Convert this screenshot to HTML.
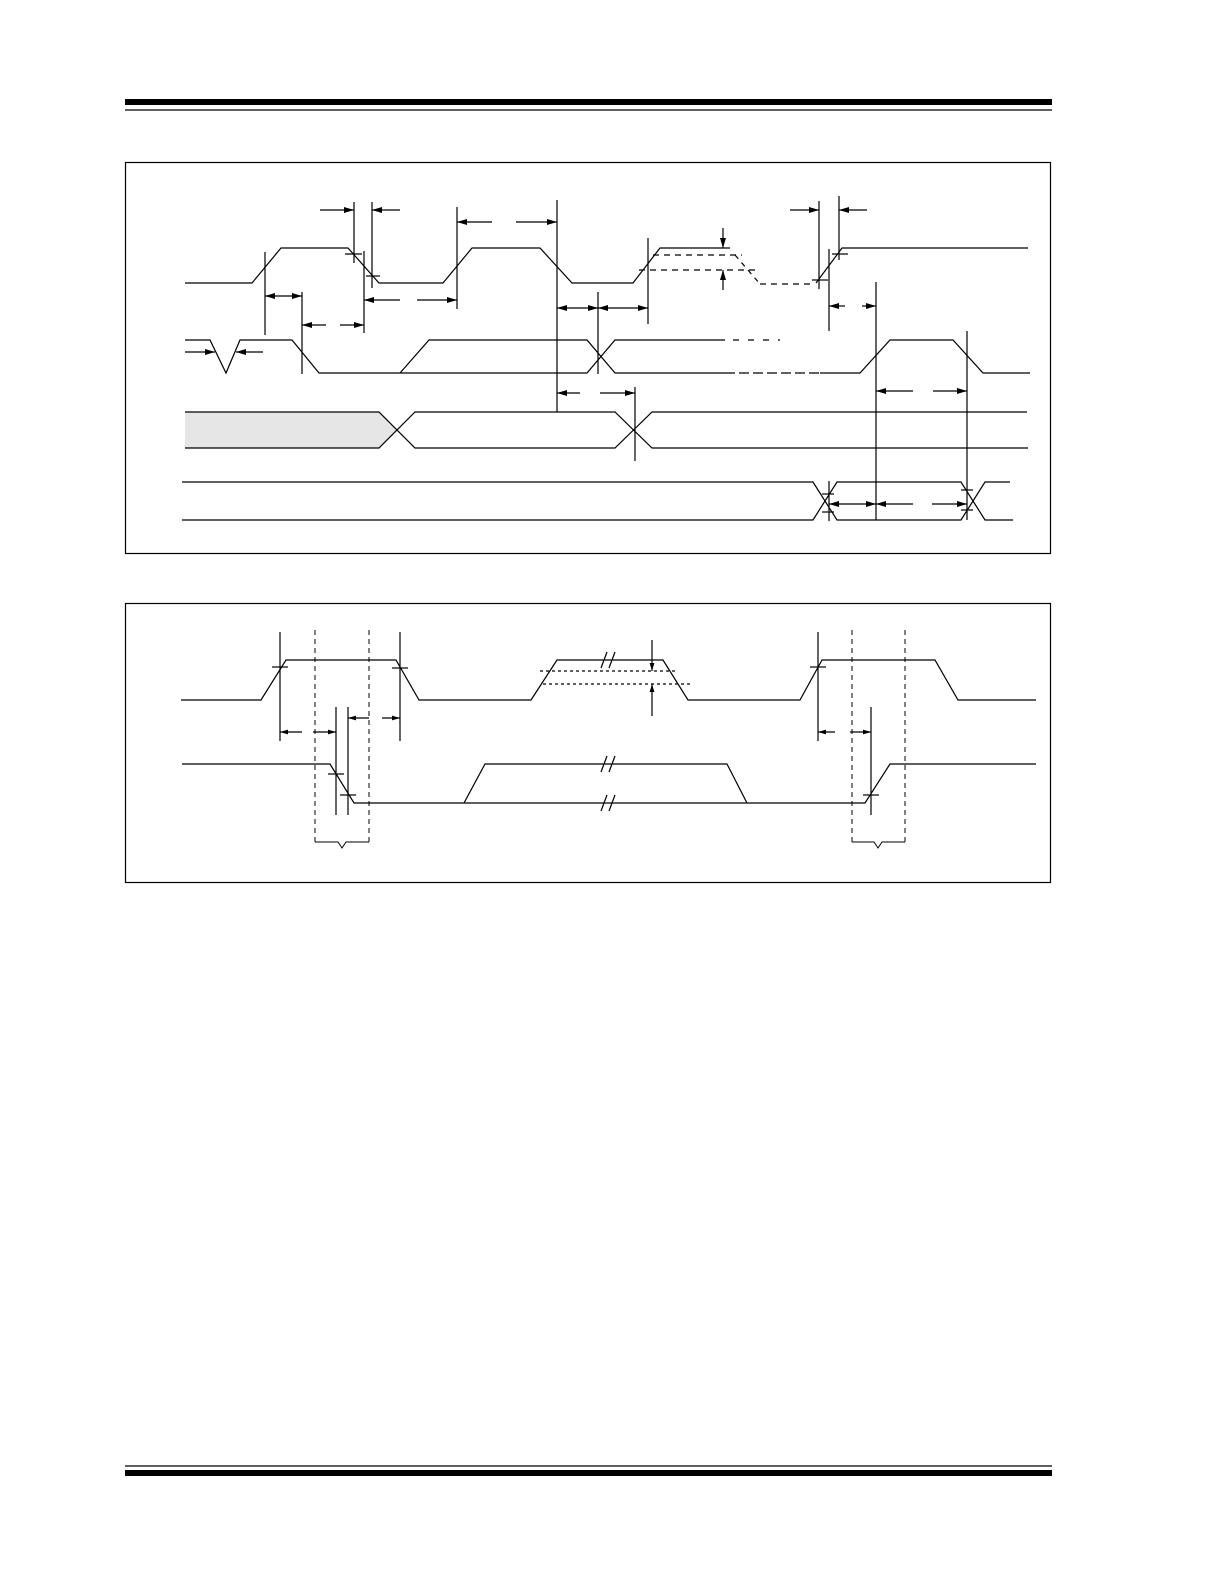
<!DOCTYPE html>
<html><head><meta charset="utf-8"><style>
html,body{margin:0;padding:0;background:#fff;overflow:hidden;width:1224px;height:1584px}
svg{display:block}
</style></head><body>
<svg width="1224" height="1584" viewBox="0 0 1224 1584" xmlns="http://www.w3.org/2000/svg">
<defs>
<marker id="a" viewBox="0 0 10 6" refX="10" refY="3" markerWidth="11" markerHeight="6" markerUnits="userSpaceOnUse" orient="auto-start-reverse"><path d="M0,0L10,3L0,6z" fill="#000"/></marker>
<marker id="s" viewBox="0 0 10 6" refX="10" refY="3" markerWidth="8" markerHeight="5" markerUnits="userSpaceOnUse" orient="auto-start-reverse"><path d="M0,0L10,3L0,6z" fill="#000"/></marker>
</defs>
<g fill="none" stroke="#000" stroke-width="1.2">
<rect x="125" y="99" width="927" height="6" fill="#000" stroke="none"/>
<line x1="125" y1="110" x2="1052" y2="110"/>
<line x1="125" y1="1466" x2="1052" y2="1466"/>
<rect x="125" y="1470" width="927" height="6" fill="#000" stroke="none"/>
<rect x="125.5" y="162.5" width="925" height="391"/>
<rect x="125.5" y="603.5" width="925" height="279"/>

<polyline points="185,283 252,283 281,248 348,248 379,283 443,283 472,248 540,248 572,283 633,283 660,248 730,248"/>
<polyline points="816,283 842,248 1028,248"/>
<line x1="653" y1="255" x2="742" y2="255" stroke-dasharray="6,5"/>
<line x1="639" y1="270" x2="757" y2="270" stroke-dasharray="6,5"/>
<line x1="735" y1="255" x2="760" y2="284" stroke-dasharray="5,5"/>
<line x1="760" y1="284" x2="815" y2="284" stroke-dasharray="6,5"/>
<line x1="723" y1="228" x2="723" y2="248" marker-end="url(#a)"/>
<line x1="723" y1="290" x2="723" y2="270" marker-end="url(#a)"/>
<line x1="265" y1="252" x2="265" y2="335"/>
<line x1="302" y1="292" x2="302" y2="374"/>
<line x1="354" y1="202" x2="354" y2="263"/>
<line x1="372" y1="202" x2="372" y2="288"/>
<line x1="364" y1="251" x2="364" y2="333"/>
<line x1="457" y1="207" x2="457" y2="309"/>
<line x1="557" y1="200" x2="557" y2="412"/>
<line x1="598" y1="292" x2="598" y2="374"/>
<line x1="648" y1="238" x2="648" y2="324"/>
<line x1="635" y1="387" x2="635" y2="461"/>
<line x1="819" y1="201" x2="819" y2="289"/>
<line x1="839" y1="196" x2="839" y2="260"/>
<line x1="829" y1="249" x2="829" y2="331"/>
<line x1="876" y1="282" x2="876" y2="520"/>
<line x1="967" y1="331" x2="967" y2="520"/>
<line x1="829" y1="481" x2="829" y2="521"/>
<line x1="345" y1="254" x2="362" y2="254"/>
<line x1="366" y1="276" x2="380" y2="276"/>
<line x1="812" y1="280" x2="828" y2="280"/>
<line x1="832" y1="254" x2="848" y2="254"/>
<line x1="320" y1="210" x2="354" y2="210" marker-end="url(#a)"/>
<line x1="400" y1="210" x2="372" y2="210" marker-end="url(#a)"/>
<line x1="492" y1="222" x2="457" y2="222" marker-end="url(#a)"/>
<line x1="516" y1="222" x2="557" y2="222" marker-end="url(#a)"/>
<line x1="265" y1="296" x2="302" y2="296" marker-start="url(#a)" marker-end="url(#a)"/>
<line x1="400" y1="300" x2="364" y2="300" marker-end="url(#a)"/>
<line x1="417" y1="300" x2="457" y2="300" marker-end="url(#a)"/>
<line x1="326" y1="325" x2="302" y2="325" marker-end="url(#a)"/>
<line x1="340" y1="325" x2="364" y2="325" marker-end="url(#a)"/>
<line x1="557" y1="308" x2="598" y2="308" marker-start="url(#a)" marker-end="url(#a)"/>
<line x1="630" y1="308" x2="598" y2="308" marker-end="url(#a)"/>
<line x1="630" y1="308" x2="648" y2="308" marker-end="url(#a)"/>
<line x1="185" y1="352" x2="215" y2="352" marker-end="url(#a)"/>
<line x1="263" y1="352" x2="236" y2="352" marker-end="url(#a)"/>
<line x1="580" y1="393" x2="557" y2="393" marker-end="url(#a)"/>
<line x1="600" y1="393" x2="635" y2="393" marker-end="url(#a)"/>
<line x1="790" y1="210" x2="819" y2="210" marker-end="url(#a)"/>
<line x1="867" y1="210" x2="839" y2="210" marker-end="url(#a)"/>
<line x1="845" y1="306" x2="829" y2="306" marker-end="url(#a)"/>
<line x1="862" y1="306" x2="876" y2="306" marker-end="url(#a)"/>
<line x1="913" y1="391" x2="876" y2="391" marker-end="url(#a)"/>
<line x1="933" y1="391" x2="967" y2="391" marker-end="url(#a)"/>
<line x1="829" y1="504" x2="876" y2="504" marker-start="url(#a)" marker-end="url(#a)"/>
<line x1="913" y1="504" x2="876" y2="504" marker-end="url(#a)"/>
<line x1="932" y1="504" x2="967" y2="504" marker-end="url(#a)"/>
<line x1="822" y1="494" x2="834" y2="494"/>
<line x1="822" y1="512" x2="834" y2="512"/>
<line x1="961" y1="490" x2="973" y2="490"/>
<line x1="961" y1="510" x2="973" y2="510"/>

<polyline points="185,340 210,340 226,373 240,340 292,340 319,373 400,373 587,373 615,340 725,340"/>
<polyline points="400,373 429,340 587,340 615,373 725,373"/>
<line x1="733" y1="340" x2="780" y2="340" stroke-dasharray="6,9"/>
<line x1="725" y1="373" x2="820" y2="373" stroke-dasharray="10,4"/>
<polyline points="820,373 860,373 890,340 953,340 983,373 1030,373"/>

<path d="M185,412 L379,412 L397,430 L379,448 L185,448 Z" fill="#e6e6e6" stroke="none"/>
<polyline points="185,412 379,412 415,448 615,448 652,412 1027,412"/>
<polyline points="185,448 379,448 415,412 615,412 652,448 1028,448"/>

<polyline points="182,482 813,482 837,520 961,520 985,482 1010,482"/>
<polyline points="182,520 813,520 837,482 961,482 985,520 1013,520"/>

<polyline points="181,700 261,700 286,660 396,660 419,700 531,700 557,660 663,660 688,700 800,700 822,660 935,660 958,700 1036,700"/>
<polyline points="182,764 330,764 354,803 464,803 485,764 727,764 747,803 865,803 890,764 1036,764"/>
<line x1="464" y1="803" x2="747" y2="803"/>
<line x1="540" y1="671" x2="678" y2="671" stroke-dasharray="3,3"/>
<line x1="543" y1="684" x2="691" y2="684" stroke-dasharray="3,3"/>
<line x1="652" y1="640" x2="652" y2="671" marker-end="url(#s)"/>
<line x1="652" y1="716" x2="652" y2="684" marker-end="url(#s)"/>
<line x1="601" y1="668" x2="607" y2="652"/><line x1="609" y1="668" x2="615" y2="652"/>
<line x1="601" y1="772" x2="607" y2="756"/><line x1="609" y1="772" x2="615" y2="756"/>
<line x1="601" y1="811" x2="607" y2="795"/><line x1="609" y1="811" x2="615" y2="795"/>
<line x1="280" y1="632" x2="280" y2="741"/>
<line x1="400" y1="632" x2="400" y2="741"/>
<line x1="336" y1="707" x2="336" y2="815"/>
<line x1="348" y1="707" x2="348" y2="815"/>
<line x1="818" y1="632" x2="818" y2="741"/>
<line x1="871" y1="707" x2="871" y2="815"/>
<g stroke-dasharray="5,4" stroke-width="1">
<line x1="315" y1="630" x2="315" y2="842"/>
<line x1="369" y1="630" x2="369" y2="842"/>
<line x1="852" y1="630" x2="852" y2="842"/>
<line x1="905" y1="630" x2="905" y2="842"/>
</g>
<line x1="272" y1="667" x2="288" y2="667"/>
<line x1="392" y1="668" x2="408" y2="668"/>
<line x1="328" y1="774" x2="344" y2="774"/>
<line x1="340" y1="795" x2="356" y2="795"/>
<line x1="810" y1="667" x2="826" y2="667"/>
<line x1="863" y1="795" x2="879" y2="795"/>
<line x1="302" y1="732" x2="280" y2="732" marker-end="url(#s)"/>
<line x1="313" y1="732" x2="336" y2="732" marker-end="url(#s)"/>
<line x1="369" y1="718" x2="348" y2="718" marker-end="url(#s)"/>
<line x1="382" y1="718" x2="400" y2="718" marker-end="url(#s)"/>
<line x1="835" y1="732" x2="818" y2="732" marker-end="url(#s)"/>
<line x1="850" y1="732" x2="871" y2="732" marker-end="url(#s)"/>
<polyline points="315,842 338,842 342,848 346,842 369,842" stroke-width="1"/>
<polyline points="852,842 874,842 878,848 882,842 905,842" stroke-width="1"/>
</g>
</svg>
</body></html>
